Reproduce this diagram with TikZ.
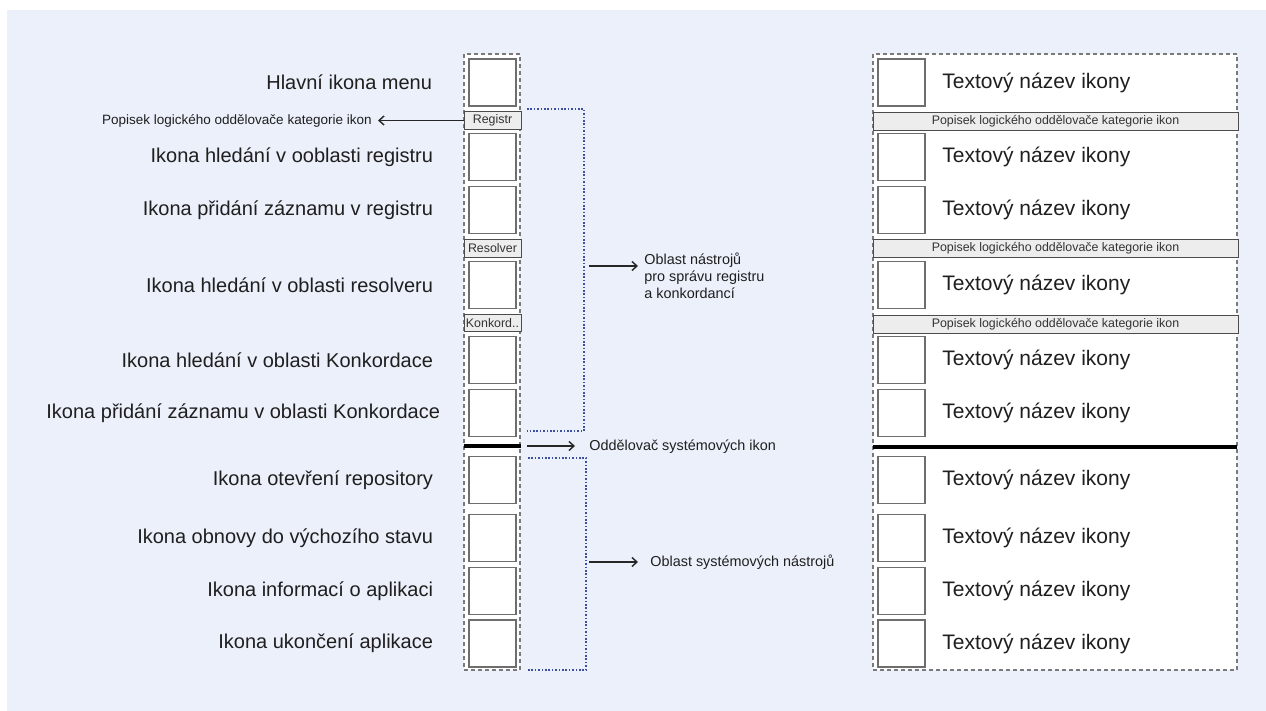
\documentclass[tikz,border=0pt]{standalone}
\usepackage{fontspec}
\setmainfont{Liberation Sans}
\usetikzlibrary{arrows.meta}
\definecolor{cBack}{HTML}{EBF0FA}
\definecolor{cFrame}{HTML}{7A7A7A}
\definecolor{cIcon}{HTML}{6E6E6E}
\definecolor{cBar}{HTML}{EDEDED}
\definecolor{cBrace}{HTML}{3E4F9E}

\begin{document}
\begin{tikzpicture}[
  x=0.5pt,y=-0.5pt,
  font=\fontsize{10pt}{12pt}\selectfont,
  icon/.style ={draw=cIcon,fill=white,line width=0.6pt,minimum width=23.5pt,minimum height=23.5pt,inner sep=0pt},
  lbl/.style  ={anchor=east,inner sep=0pt,text=black!88},
  iname/.style={anchor=west,inner sep=0pt,text=black!88,font=\fontsize{10.5pt}{12pt}\selectfont},
  catbar/.style={draw=black!70,fill=cBar,line width=0.5pt,inner sep=0pt,minimum height=8.6pt,
                 text=black!80,font=\fontsize{6.2pt}{7pt}\selectfont},
  frame/.style={draw=cFrame,fill=white,line width=0.6pt,dash pattern=on 2pt off 1.5pt},
  note/.style ={anchor=west,inner ysep=0pt,inner xsep=3pt,align=left,text=black!88,
                font=\fontsize{7.2pt}{8.5pt}\selectfont},
  brace/.style={draw=cBrace,line width=0.8pt,dash pattern=on 0.8pt off 0.9pt},
  a/.style    ={-{Straight Barb[length=2.5pt,width=4.5pt]},line width=0.7pt,draw=black!85},
  sepline/.style={line width=2pt,draw=black},
]
\useasboundingbox (0,0) rectangle (1266,711);
\fill[white] (0,0) rectangle (1266,711);
\fill[cBack] (7,10) rectangle (1266,711);

% frames of the two toolbars
\draw[frame] (464,54) rectangle (520,670);
\draw[frame] (873,54) rectangle (1237,670);

% icon rows
\foreach \y [count=\i] in {82.5,157,210,285,360,413,480,538,591,643.5}
  {\node[icon] (il\i) at (492.5,\y) {};
   \node[icon] (ir\i) at (901.5,\y) {};
   \node[iname] (tr\i) at (942,\y) {Textový název ikony};}

\foreach \i/\s/\t in {1/18/{Hlavní ikona menu}, 2/17.5/{Ikona hledání v ooblasti registru},
                   3/17.5/{Ikona přidání záznamu v registru}, 4/17.5/{Ikona hledání v oblasti resolveru},
                   5/17.5/{Ikona hledání v oblasti Konkordace}, 6/14/{Ikona přidání záznamu v oblasti Konkordace},
                   7/17.5/{Ikona otevření repository}, 8/17.5/{Ikona obnovy do výchozího stavu},
                   9/17.5/{Ikona informací o aplikaci}, 10/17.5/{Ikona ukončení aplikace}}
  {\node[lbl] (tl\i) at ([xshift=-\s pt]il\i.west) {\t};}

% category separators
\node[catbar,minimum width=28.5pt] (cl1) at (492.5,120.5) {Registr};
\node[catbar,minimum width=28.5pt] (cl2) at (492.5,248.5) {Resolver};
\node[catbar,minimum width=28.5pt] (cl3) at (492.5,323) {Konkord..};
\foreach \y [count=\i] in {121.5,248.5,324.5}
  {\node[catbar,minimum width=182.5pt] (cr\i) at (1055.5,\y)
     {Popisek logického oddělovače kategorie ikon};}

% system separator
\coordinate (sepw) at (464,446);
\coordinate (sepe) at (521,446);
\draw[sepline] (sepw) -- (sepe);
\draw[sepline] (873,447) -- (1237,447);

% dotted brackets
\draw[brace] (527,109) -- (584,109) -- (584,431) -- (527,431);
\draw[brace] (528,458) -- (586,458) -- (586,670) -- (528,670);
\coordinate (b1) at (589,266);
\coordinate (b2) at (589,562);

% notes
\node[note,anchor=east,font=\fontsize{6.75pt}{8pt}\selectfont] (pl) at (378,121)
  {Popisek logického oddělovače kategorie ikon};
\node[note] (n1) at (638,276) {Oblast nástrojů\\pro správu registru\\a konkordancí};
\node[note,inner xsep=7pt] (n2) at (575,447) {Oddělovač systémových ikon};
\node[note,inner xsep=6pt] (n3) at (638,562) {Oblast systémových nástrojů};

\draw[a] (cl1.west) -- (cl1.west -| pl.east);
\draw[a] (b1) -- (b1 -| n1.west);
\draw[a] ([xshift=3pt]sepe) -- (n2.west |- sepe);
\draw[a] (b2) -- (b2 -| n3.west);
\end{tikzpicture}
\end{document}
